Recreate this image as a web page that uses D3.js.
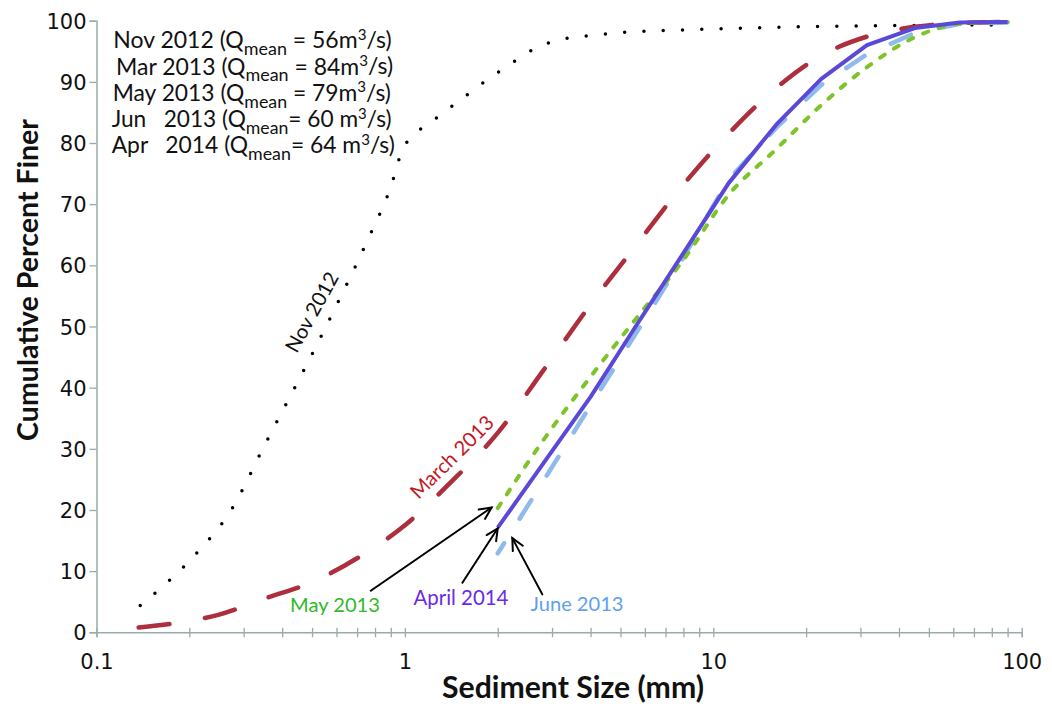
<!DOCTYPE html>
<html>
<head>
<meta charset="utf-8">
<script src="https://cdn.jsdelivr.net/npm/d3@7"></script>
<style>
  html, body { margin: 0; padding: 0; background: #fff; }
  svg { display: block; }
  text { white-space: pre; }
</style>
</head>
<body>
<svg id="chart" width="1052" height="704"></svg>
<script>
// ---------------- DATA (sediment size mm, cumulative percent finer) ----------------
const nov2012 = [[0.1386,4.4],[0.2108,12.9],[0.2733,20.0],[0.3549,31.1],[0.4609,42.0],[0.5938,53.0],
  [0.7598,64.3],[0.9023,73.0],[0.98,78.8],[1.06,81.2],[1.19,83.1],[1.49,86.8],[1.87,90.5],[2.37,94.0],
  [2.67,95.6],[3.03,96.6],[4.0,97.6],[4.6,97.9],[9.4,98.6],[19,99.0],[38.5,99.2],[90,99.3]];
const mar2013 = [[0.137,0.8],[0.18,1.5],[0.25,2.9],[0.355,5.6],[0.5,8.2],[0.71,12.3],[1,17.5],[1.4,24.4],
  [2,32.6],[2.8,42.7],[4,53.6],[5.6,63.2],[8,73.2],[11.2,81.5],[16,89.0],[22.4,94.3],[31.5,97.4],
  [45,99.0],[63,99.6],[90,99.8]];
const may2013 = [[2,20.3],[2.8,31.3],[4,41.8],[5.6,51.2],[8,60.9],[11.2,71.5],[16,79],[22.4,86.2],
  [31.5,92.4],[45,97.3],[63,99.5],[90,99.8]];
const jun2013 = [[2,12.9],[2.8,24.6],[4,37.1],[5.6,48.8],[8,61.3],[11.2,74],[16,82.5],[22.4,89.5],
  [31.5,94.5],[45,98],[63,99.5],[90,99.7]];
const apr2014 = [[2,17.1],[2.8,27.5],[4,38.5],[5.6,50],[8,62],[11.2,73.4],[16,83],[22.4,90.5],
  [31.5,96],[45,98.8],[63,99.7],[90,99.8]];

const xDomain = [0.1, 100];
const yDomain = [0, 100];
const xTickLabels = [0.1, 1, 10, 100];
const yTickValues = [0,10,20,30,40,50,60,70,80,90,100];

const legendLines = [
  ["Nov 2012 (Q", "mean", " = 56m", "3", "/s)"],
  ["Mar 2013 (Q", "mean", " = 84m", "3", "/s)"],
  ["May 2013 (Q", "mean", " = 79m", "3", "/s)"],
  ["Jun   2013 (Q", "mean", "= 60 m", "3", "/s)"],
  ["Apr   2014 (Q", "mean", "= 64 m", "3", "/s)"]
];

// annotation arrows: [label, tail(size,pct), tip(size,pct)]
const arrowsData = [
  {name: "May 2013", tail: [0.775, 6.8], tip: [1.91, 20.4]},
  {name: "April 2014", tail: [1.536, 8.1], tip: [2.0, 17.0]},
  {name: "June 2013", tail: [2.79, 6.2], tip: [2.23, 15.4]}
];

// ---------------- LAYOUT ----------------
const svg = d3.select("#chart");
const x = d3.scaleLog().domain(xDomain).range([96.5, 1021.7]);
const y = d3.scaleLinear().domain(yDomain).range([632.3, 20.7]);
const axisColor = "#9aabab";
const LAT = "Lato, 'Noto Sans', sans-serif";

function fit(sel, target) {
  const w = sel.node().getComputedTextLength();
  const fs = parseFloat(sel.attr("font-size"));
  sel.attr("font-size", fs * target / w);
}

// X axis
const xTicks = [];
for (let e = -1; e < 2; e++) for (let m = 1; m <= 9; m++) xTicks.push(+(m * Math.pow(10, e)).toPrecision(3));
xTicks.push(100);
const gx = svg.append("g").attr("transform", `translate(0,${y(0)})`)
  .call(d3.axisBottom(x).tickValues(xTicks).tickSizeOuter(0).tickSize(5)
    .tickFormat(d => xTickLabels.includes(d) ? String(d) : ""));
gx.select(".domain").attr("stroke", axisColor).attr("stroke-width", 1.5);
gx.selectAll(".tick line").attr("stroke", axisColor).attr("stroke-width", 1.3).attr("y1", -4.5).attr("y2", 5);
gx.selectAll(".tick text").attr("font-family", "'DejaVu Sans', sans-serif").attr("font-size", 21)
  .attr("fill", "#111").attr("y", 0).attr("dy", 37);

// Y axis
const gy = svg.append("g").attr("transform", `translate(${x(0.1)},0)`)
  .call(d3.axisLeft(y).tickValues(yTickValues).tickSizeOuter(0).tickSize(7).tickPadding(3));
gy.select(".domain").attr("stroke", axisColor).attr("stroke-width", 1.5);
gy.selectAll(".tick line").attr("stroke", axisColor).attr("stroke-width", 1.3);
gy.selectAll(".tick text").attr("font-family", "'DejaVu Sans', sans-serif").attr("font-size", 21)
  .attr("fill", "#111").attr("dy", "0.36em");

// Axis titles
const xt = svg.append("text").attr("x", 573).attr("y", 698).attr("text-anchor", "middle")
  .attr("font-family", LAT).attr("font-weight", "bold").attr("font-size", 22).attr("fill", "#111")
  .text("Sediment Size (mm)");
fit(xt, 262);
const yt = svg.append("text").attr("transform", "translate(38,280) rotate(-90)").attr("text-anchor", "middle")
  .attr("font-family", LAT).attr("font-weight", "bold").attr("font-size", 22).attr("fill", "#111")
  .text("Cumulative Percent Finer");
fit(yt, 322);

// ---------------- SERIES ----------------
const lineSmooth = d3.line().x(d => x(d[0])).y(d => y(d[1])).curve(d3.curveMonotoneX);
const lineStraight = d3.line().x(d => x(d[0])).y(d => y(d[1]));

svg.append("path").datum(nov2012).attr("d", lineSmooth).attr("fill", "none")
  .attr("stroke", "#000").attr("stroke-width", 3.5).attr("stroke-linecap", "round")
  .attr("stroke-dasharray", "0 19.3");
svg.append("path").datum(mar2013).attr("d", lineSmooth).attr("fill", "none")
  .attr("stroke", "#ad2f3d").attr("stroke-width", 4.5).attr("stroke-linecap", "round")
  .attr("stroke-dasharray", "31 36");
svg.append("path").datum(jun2013).attr("d", lineStraight).attr("fill", "none")
  .attr("stroke", "#8fbaec").attr("stroke-width", 4.5).attr("stroke-linecap", "round")
  .attr("stroke-dasharray", "22 29").attr("stroke-dashoffset", 10);
svg.append("path").datum(may2013).attr("d", lineSmooth).attr("fill", "none")
  .attr("stroke", "#7cc42a").attr("stroke-width", 4).attr("stroke-linecap", "round")
  .attr("stroke-dasharray", "5.5 11");
svg.append("path").datum(apr2014).attr("d", lineStraight).attr("fill", "none")
  .attr("stroke", "#5a48d6").attr("stroke-width", 4).attr("stroke-linejoin", "round");

// ---------------- LEGEND TEXT ----------------
const legX = [113.3, 116, 112.7, 111.7, 111.7];
const legY = [48.3, 74.6, 100.8, 127, 153.3];
const legW = [278.4, 277.3, 278.3, 280, 283.3];
legendLines.forEach((parts, i) => {
  const t = svg.append("text").attr("x", legX[i]).attr("y", legY[i])
    .attr("font-family", LAT).attr("font-size", 22).attr("fill", "#111");
  t.append("tspan").text(parts[0]);
  t.append("tspan").attr("font-size", "0.78em").attr("dy", "0.38em").text(parts[1]);
  t.append("tspan").attr("dy", "-0.3em").text(parts[2]);
  t.append("tspan").attr("font-size", "0.66em").attr("dy", "-0.55em").text(parts[3]);
  t.append("tspan").attr("dy", "0.36em").text(parts[4]);
  fit(t, legW[i]);
});

// ---------------- ANNOTATIONS ----------------
const nl = svg.append("text").attr("transform", "translate(312,312) rotate(-61)").attr("text-anchor", "middle")
  .attr("dy", "0.35em").attr("font-family", LAT).attr("font-size", 18).attr("fill", "#111").text("Nov 2012");
fit(nl, 88);
const ml = svg.append("text").attr("transform", "translate(452,457) rotate(-44.6)").attr("text-anchor", "middle")
  .attr("dy", "0.35em").attr("font-family", LAT).attr("font-size", 18).attr("fill", "#c4161f").text("March 2013");
fit(ml, 108);

const labs = [
  {text: "May 2013", x: 335, y: 612, w: 90, c: "#33b829"},
  {text: "April 2014", x: 461, y: 605, w: 95, c: "#6a2ae8"},
  {text: "June 2013", x: 577, y: 611, w: 93, c: "#5e9ff0"}
];
labs.forEach(l => {
  const t = svg.append("text").attr("x", l.x).attr("y", l.y).attr("text-anchor", "middle")
    .attr("font-family", LAT).attr("font-size", 20).attr("fill", l.c).text(l.text);
  fit(t, l.w);
});

arrowsData.forEach(a => {
  const x1 = x(a.tail[0]), y1 = y(a.tail[1]), x2 = x(a.tip[0]), y2 = y(a.tip[1]);
  const ang = Math.atan2(y2 - y1, x2 - x1);
  const L = 13, sp = 0.45;
  const g = svg.append("g").attr("stroke", "#000").attr("stroke-width", 2).attr("fill", "none")
    .attr("stroke-linecap", "round");
  g.append("line").attr("x1", x1).attr("y1", y1).attr("x2", x2).attr("y2", y2);
  g.append("path").attr("d",
    `M${x2 - L * Math.cos(ang - sp)},${y2 - L * Math.sin(ang - sp)} L${x2},${y2} L${x2 - L * Math.cos(ang + sp)},${y2 - L * Math.sin(ang + sp)}`);
});
</script>
</body>
</html>
